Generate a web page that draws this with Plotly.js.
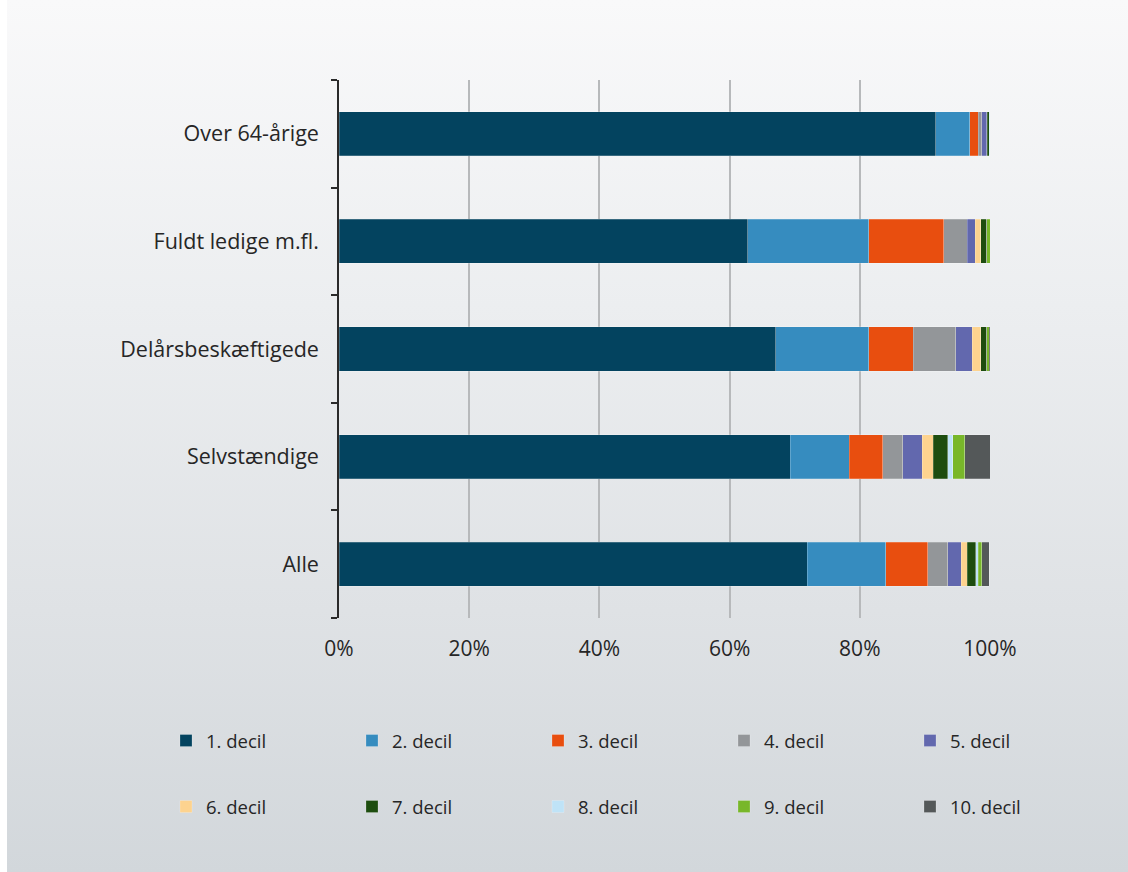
<!DOCTYPE html>
<html>
<head>
<meta charset="utf-8">
<script src="https://cdn.plot.ly/plotly-3.0.1.min.js"></script>
<style>
  html, body { margin: 0; padding: 0; }
  body { width: 1128px; height: 872px; background: #ffffff; overflow: hidden; }
  #card { position: absolute; left: 7px; top: 0; width: 1121px; height: 872px;
          background: linear-gradient(to bottom, #f9f9fa 0%, #eceef0 35%, #dfe2e5 70%, #d2d7db 100%); }
  #chart { position: absolute; left: 0; top: 0; width: 1128px; height: 872px; }
</style>
</head>
<body>
<div id="card"></div>
<div id="chart"></div>
<script>
const categories = ["Alle", "Selvstændige", "Delårsbeskæftigede", "Fuldt ledige m.fl.", "Over 64-årige"];
const seriesNames = ["1. decil", "2. decil", "3. decil", "4. decil", "5. decil",
                     "6. decil", "7. decil", "8. decil", "9. decil", "10. decil"];
const colors = ["#03435f", "#368cbf", "#e84e0f", "#939699", "#6268ae",
                "#fdd38f", "#1d4d0f", "#bfe3f7", "#78b72a", "#545859"];
// values per decile, in order of categories (Alle, Selvstændige, Delårsbeskæftigede, Fuldt ledige, Over 64)
const decil1  = [71.9, 69.3, 67.1, 62.8, 91.7];
const decil2  = [12.1,  9.1, 14.3, 18.6,  5.2];
const decil3  = [ 6.4,  5.1,  6.8, 11.5,  1.3];
const decil4  = [ 3.1,  3.1,  6.5,  3.6,  0.5];
const decil5  = [ 2.1,  3.0,  2.6,  1.2,  0.8];
const decil6  = [ 0.9,  1.7,  1.3,  0.9,  0.1];
const decil7  = [ 1.3,  2.2,  0.9,  0.9,  0.3];
const decil8  = [ 0.4,  0.8,  0.0,  0.0,  0.05];
const decil9  = [ 0.5,  1.8,  0.4,  0.5,  0.3];
const decil10 = [ 1.2,  3.9,  0.1,  0.0,  0.0];
const values = [decil1, decil2, decil3, decil4, decil5, decil6, decil7, decil8, decil9, decil10];
const xTickVals = [0, 20, 40, 60, 80, 100];
const xTickText = ["0%", "20%", "40%", "60%", "80%", "100%"];

const legendIds = seriesNames.map((_, i) => i === 0 ? "legend" : "legend" + (i + 1));

const traces = seriesNames.map((name, i) => ({
  type: "bar",
  orientation: "h",
  name: name,
  y: categories,
  x: values[i],
  marker: { color: colors[i], line: { color: "rgba(255,255,255,0.35)", width: 0.6 } },
  legend: legendIds[i],
  hoverinfo: "x+name"
}));

const fontFam = "'Open Sans', 'Noto Sans', sans-serif";
const colX = [166, 352, 538, 724, 910];   // legend column left edges, px
const rowY = [741, 807];                    // legend row centres, px

const layout = {
  width: 1128, height: 872,
  paper_bgcolor: "rgba(0,0,0,0)",
  plot_bgcolor: "rgba(0,0,0,0)",
  margin: { l: 339, r: 138, t: 80, b: 254 },
  barmode: "stack",
  bargap: 0.59,
  font: { family: fontFam, color: "#262626" },
  xaxis: {
    range: [0, 100],
    tickvals: xTickVals, ticktext: xTickText,
    showgrid: true, gridcolor: "#b7b9bb", gridwidth: 1.5,
    zeroline: false, showline: false, ticks: "",
    ticklabelstandoff: 16,
    tickfont: { family: fontFam, size: 21, color: "#262626" },
    fixedrange: true
  },
  yaxis: {
    type: "category",
    categoryorder: "array", categoryarray: categories,
    showline: true, linecolor: "#2a2a2a", linewidth: 1.5,
    ticks: "outside", tickson: "boundaries", ticklen: 6, tickcolor: "#2a2a2a", tickwidth: 1.5,
    ticklabelstandoff: 14,
    showgrid: false, zeroline: false,
    tickfont: { family: fontFam, size: 21.5, color: "#262626" },
    fixedrange: true
  },
  showlegend: true
};

legendIds.forEach((id, i) => {
  layout[id] = {
    orientation: "h",
    xref: "container", yref: "container",
    x: colX[i % 5] / 1128, xanchor: "left",
    y: 1 - rowY[Math.floor(i / 5)] / 872, yanchor: "middle",
    bgcolor: "rgba(0,0,0,0)",
    font: { family: fontFam, size: 18.5, color: "#262626" }
  };
});

Plotly.newPlot("chart", traces, layout, { displayModeBar: false });
</script>
</body>
</html>
